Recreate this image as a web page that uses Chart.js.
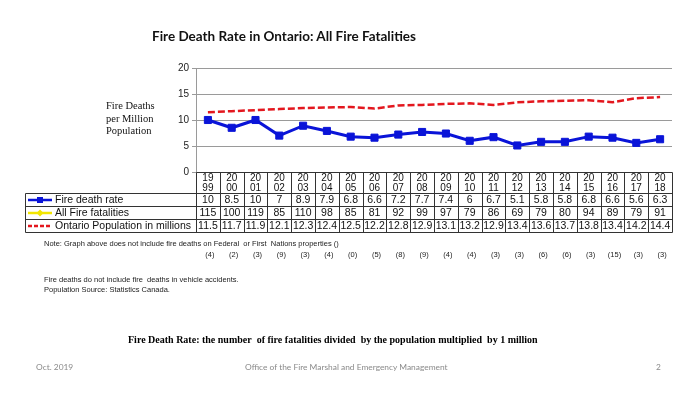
<!DOCTYPE html>
<html>
<head>
<meta charset="utf-8">
<script src="https://cdn.jsdelivr.net/npm/chart.js@4.4.0/dist/chart.umd.min.js"></script>
<style>
  body { margin: 0; background: #fff; }
  #wrap { position: relative; width: 700px; height: 394px; overflow: hidden; }
  #chart { position: absolute; left: 0; top: 0; }
  .txt { position: absolute; white-space: nowrap; }
  #title { left: 152px; top: 28px; font: bold 13.5px Lato, sans-serif; color: #111; }
  #ytitle { left: 106px; top: 100px; font: 10.5px "Liberation Serif", serif; line-height: 12.5px; color: #111; }
  .note { left: 44px; font: 7.5px "Liberation Sans", sans-serif; color: #222; }
  #def { left: 128px; top: 334px; font: bold 10px "Liberation Serif", serif; color: #000; }
  .foot { top: 362px; font: 8.4px Lato, sans-serif; color: #8a8a8a; }
</style>
</head>
<body>
<div id="wrap">
  <canvas id="chart" width="700" height="394"></canvas>
  <div class="txt" id="title">Fire Death Rate in Ontario: All Fire Fatalities</div>
  <div class="txt" id="ytitle">Fire Deaths<br>per Million<br>Population</div>
  <div class="txt note" style="top:239px">Note: Graph above does not include fire deaths on Federal&nbsp; or First&nbsp; Nations properties ()</div>
  <div class="txt note" style="top:275px">Fire deaths do not include fire&nbsp; deaths in vehicle accidents.</div>
  <div class="txt note" style="top:285px">Population Source: Statistics Canada.</div>
  <div class="txt" id="def">Fire Death Rate: the number&nbsp; of fire fatalities divided&nbsp; by the population multiplied&nbsp; by 1 million</div>
  <div class="txt foot" style="left:36px">Oct. 2019</div>
  <div class="txt foot" style="left:245px">Office of the Fire Marshal and Emergency Management</div>
  <div class="txt foot" style="left:656px">2</div>
</div>
<script>
// data
const years = ['1999','2000','2001','2002','2003','2004','2005','2006','2007','2008','2009','2010','2011','2012','2013','2014','2015','2016','2017','2018'];
const deathRate = [10, 8.5, 10, 7, 8.9, 7.9, 6.8, 6.6, 7.2, 7.7, 7.4, 6, 6.7, 5.1, 5.8, 5.8, 6.8, 6.6, 5.6, 6.3];
const fatalities = [115, 100, 119, 85, 110, 98, 85, 81, 92, 99, 97, 79, 86, 69, 79, 80, 94, 89, 79, 91];
const population = [11.5, 11.7, 11.9, 12.1, 12.3, 12.4, 12.5, 12.2, 12.8, 12.9, 13.1, 13.2, 12.9, 13.4, 13.6, 13.7, 13.8, 13.4, 14.2, 14.4];
const federalDeaths = [4, 2, 3, 9, 3, 4, 0, 5, 8, 9, 4, 4, 3, 3, 6, 6, 3, 15, 3, 3];
const yTicks = [0, 5, 10, 15, 20];

const BLUE = '#0a14d8';
const YELLOW = '#f2e600';
const RED = '#e3171e';

const rows = [
  { label: 'Fire death rate', values: deathRate, color: BLUE, dash: [], marker: 'rect' },
  { label: 'All Fire fatalities', values: fatalities, color: YELLOW, dash: [], marker: 'diamond' },
  { label: 'Ontario Population in millions', values: population, color: RED, dash: [4, 2], marker: null }
];

// data table under the plot, columns taken from the x scale
const tablePlugin = {
  id: 'dataTable',
  afterDraw(chart) {
    const ctx = chart.ctx;
    const x = chart.scales.x;
    const area = chart.chartArea;
    const n = years.length;
    const step = (x.right - x.left) / n;
    const headTop = area.bottom, headBot = area.bottom + 21;
    const rowH = 13;
    const legLeft = 25;
    const tableBot = headBot + rowH * rows.length;
    const px = v => Math.round(v) + 0.5;

    ctx.save();
    ctx.strokeStyle = '#333';
    ctx.lineWidth = 1;
    ctx.beginPath();
    // header box
    ctx.moveTo(px(x.left), px(headTop)); ctx.lineTo(px(x.right), px(headTop));
    for (let i = 0; i <= n; i++) {
      const cx = px(x.left + i * step);
      ctx.moveTo(cx, px(headTop)); ctx.lineTo(cx, px(tableBot));
    }
    for (let r = 0; r <= rows.length; r++) {
      const yy = px(headBot + r * rowH);
      ctx.moveTo(px(legLeft), yy); ctx.lineTo(px(x.right), yy);
    }
    ctx.moveTo(px(legLeft), px(headBot)); ctx.lineTo(px(legLeft), px(tableBot));
    ctx.stroke();

    ctx.fillStyle = '#111';
    ctx.textAlign = 'center';
    ctx.textBaseline = 'middle';
    ctx.font = '10px "Liberation Sans", Arial, sans-serif';
    years.forEach((yr, i) => {
      const cx = x.getPixelForValue(i);
      ctx.fillText(yr.slice(0, 2), cx, headTop + 6);
      ctx.fillText(yr.slice(2), cx, headTop + 16);
    });

    ctx.font = '10.5px "Liberation Sans", Arial, sans-serif';
    rows.forEach((row, r) => {
      const cy = headBot + r * rowH + rowH / 2 + 0.5;
      row.values.forEach((v, i) => {
        ctx.fillStyle = '#111';
        ctx.fillText(String(v), x.getPixelForValue(i), cy);
      });
      // legend key
      ctx.strokeStyle = row.color;
      ctx.lineWidth = 2.5;
      ctx.setLineDash(row.dash);
      ctx.beginPath();
      ctx.moveTo(legLeft + 3, cy); ctx.lineTo(legLeft + 27, cy);
      ctx.stroke();
      ctx.setLineDash([]);
      ctx.fillStyle = row.color;
      if (row.marker === 'rect') ctx.fillRect(legLeft + 12, cy - 3, 6, 6);
      if (row.marker === 'diamond') {
        ctx.beginPath();
        ctx.moveTo(legLeft + 15, cy - 3.5); ctx.lineTo(legLeft + 18.5, cy);
        ctx.lineTo(legLeft + 15, cy + 3.5); ctx.lineTo(legLeft + 11.5, cy);
        ctx.fill();
      }
      ctx.fillStyle = '#111';
      ctx.textAlign = 'left';
      ctx.fillText(row.label, legLeft + 30, cy);
      ctx.textAlign = 'center';
    });

    // federal / First Nations deaths under each year
    ctx.font = '7.5px "Liberation Sans", Arial, sans-serif';
    ctx.fillStyle = '#222';
    federalDeaths.forEach((d, i) => {
      ctx.fillText('(' + d + ')', x.getPixelForValue(i) + 2, 255);
    });
    ctx.restore();
  }
};

new Chart(document.getElementById('chart'), {
  type: 'line',
  data: {
    labels: years,
    datasets: [
      {
        label: 'Fire death rate',
        data: deathRate,
        borderColor: BLUE,
        backgroundColor: BLUE,
        borderWidth: 3,
        pointStyle: 'rect',
        pointRadius: 5,
        pointBorderWidth: 1,
        tension: 0
      },
      {
        label: 'All Fire fatalities',
        data: fatalities,
        borderColor: YELLOW,
        backgroundColor: YELLOW,
        borderWidth: 2,
        pointStyle: 'rectRot',
        pointRadius: 4
      },
      {
        label: 'Ontario Population in millions',
        data: population,
        borderColor: RED,
        backgroundColor: RED,
        borderWidth: 2.5,
        borderDash: [7, 3],
        pointRadius: 0,
        tension: 0
      }
    ]
  },
  options: {
    responsive: false,
    animation: false,
    layout: { padding: { left: 0, top: 68, right: 28, bottom: 222 } },
    plugins: { legend: { display: false }, tooltip: { enabled: false } },
    scales: {
      x: { display: false, offset: true },
      y: {
        min: 0,
        max: 20,
        afterFit: s => { s.width = 196; },
        afterBuildTicks: s => { s.ticks = yTicks.map(v => ({ value: v })); },
        grid: { color: '#9a9a9a', tickLength: 4, lineWidth: 1 },
        border: { color: '#9a9a9a' },
        ticks: { color: '#222', padding: 3, font: { family: '"Liberation Sans", Arial, sans-serif', size: 10 } }
      }
    }
  },
  plugins: [tablePlugin]
});
</script>
</body>
</html>
